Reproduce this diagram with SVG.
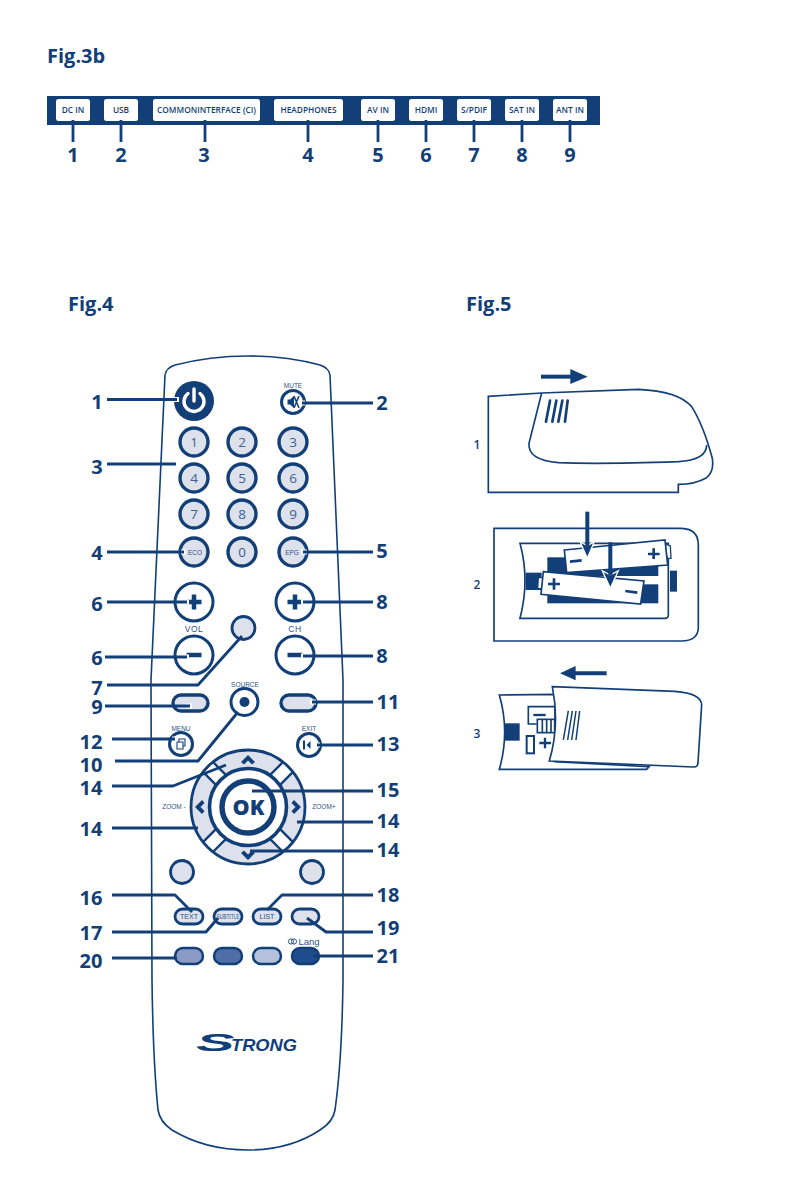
<svg xmlns="http://www.w3.org/2000/svg" width="805" height="1191" viewBox="0 0 805 1191">
<style>
text{font-family:"Open Sans","Liberation Sans",sans-serif;fill:#123f78}
.fig{font-size:20px;font-weight:700}
.num{font-size:20px;font-weight:700;text-anchor:middle}
.port{font-size:8.300px;font-weight:600;text-anchor:middle}
.pb{fill:#fff}
.c{fill:none;stroke:#123f78;stroke-width:2.800;stroke-linejoin:round}
.h{fill:none;stroke:#fff;stroke-width:5}
.key{fill:#dde1ec;stroke:#123f78;stroke-width:3.400}
.wkey{fill:#fff;stroke:#123f78;stroke-width:3}
.pill{fill:#dde1ec;stroke:#123f78;stroke-width:2.800}
.d{font-size:13.500px;text-anchor:middle;fill:#3d5f92}
.s{font-family:"Liberation Sans",sans-serif;font-size:7px;text-anchor:middle;fill:#2d5288}
.sm{font-family:"Liberation Sans",sans-serif;font-size:6.500px;text-anchor:middle;fill:#2d5288}
.dk{fill:#123f78}
.sc{fill:none;stroke:#123f78;stroke-width:5;stroke-linejoin:miter}
.st{fill:none;stroke:#123f78;stroke-width:8;stroke-linecap:round}
.lb{font-size:12px;font-weight:600}
.lab{font-family:"Liberation Sans",sans-serif;font-size:8.500px;text-anchor:middle;letter-spacing:.5px;fill:#2d5288}
.logo{font-family:"Liberation Sans",sans-serif;font-style:italic;font-weight:700}
</style>

<text class="fig" x="47" y="63">Fig.3b</text>
<text class="fig" x="68" y="311">Fig.4</text>
<text class="fig" x="466" y="311">Fig.5</text>

<g id="panel">
<rect x="47" y="96" width="553" height="29" fill="#123f78"/>
</g>
<g id="port-1"><rect class="pb" x="56" y="99" width="34" height="22" rx="2.5"/><text class="port" x="73" y="112.500">DC IN</text></g>
<g id="port-2"><rect class="pb" x="104" y="99" width="34" height="22" rx="2.5"/><text class="port" x="121" y="112.500">USB</text></g>
<g id="port-3"><rect class="pb" x="153" y="99" width="107" height="22" rx="2.500"/><text class="port" x="206.500" y="113" textLength="99" lengthAdjust="spacingAndGlyphs">COMMONINTERFACE (CI)</text></g>
<g id="port-4"><rect class="pb" x="274" y="99" width="69" height="22" rx="2.5"/><text class="port" x="308.500" y="112.500">HEADPHONES</text></g>
<g id="port-5"><rect class="pb" x="361" y="99" width="34" height="22" rx="2.5"/><text class="port" x="378" y="112.500">AV IN</text></g>
<g id="port-6"><rect class="pb" x="409" y="99" width="34" height="22" rx="2.5"/><text class="port" x="426" y="112.500">HDMI</text></g>
<g id="port-7"><rect class="pb" x="457" y="99" width="34" height="22" rx="2.5"/><text class="port" x="474" y="112.500">S/PDIF</text></g>
<g id="port-8"><rect class="pb" x="505" y="99" width="34" height="22" rx="2.5"/><text class="port" x="522" y="112.500">SAT IN</text></g>
<g id="port-9"><rect class="pb" x="553" y="99" width="34" height="22" rx="2.5"/><text class="port" x="570" y="112.500">ANT IN</text></g>

<g id="remote-body">
<path d="M165 375 Q166 368 175 365 Q210 356 248 356 Q286 356 320 365 Q329 368 330 375 L343 680 L343 980 Q342 1060 335 1110 Q333 1122 320 1130 Q290 1150 248 1150 Q205 1150 172 1130 Q160 1122 158 1110 Q153 1060 152 980 L151 680 Z" fill="#fff" stroke="#123f78" stroke-width="1.600"/>
</g>

<g id="btn-power"><circle cx="194" cy="401" r="20" class="dk"/><path d="M188 393.500 A10 10 0 1 0 200 393.500" fill="none" stroke="#fff" stroke-width="3.400" stroke-linecap="round"/><path d="M194 389V401" stroke="#fff" stroke-width="3.400" stroke-linecap="round"/></g>
<g id="btn-mute"><circle cx="293" cy="402" r="11.500" class="wkey"/><path d="M287.500 399.500h2.500l4-3.500v12l-4-3.500h-2.500z" class="dk"/><path d="M294 396l5 12M299 396l-5 12" fill="none" stroke="#123f78" stroke-width="1.500"/><text class="sm" x="293" y="387.500">MUTE</text></g>

<g id="btn-1"><circle class="key" cx="194" cy="442" r="14"/><text class="d" x="194" y="447">1</text></g>
<g id="btn-2"><circle class="key" cx="242" cy="442" r="14"/><text class="d" x="242" y="447">2</text></g>
<g id="btn-3"><circle class="key" cx="293" cy="442" r="14"/><text class="d" x="293" y="447">3</text></g>
<g id="btn-4"><circle class="key" cx="194" cy="478" r="14"/><text class="d" x="194" y="483">4</text></g>
<g id="btn-5"><circle class="key" cx="242" cy="478" r="14"/><text class="d" x="242" y="483">5</text></g>
<g id="btn-6"><circle class="key" cx="293" cy="478" r="14"/><text class="d" x="293" y="483">6</text></g>
<g id="btn-7"><circle class="key" cx="194" cy="514" r="14"/><text class="d" x="194" y="519">7</text></g>
<g id="btn-8"><circle class="key" cx="242" cy="514" r="14"/><text class="d" x="242" y="519">8</text></g>
<g id="btn-9"><circle class="key" cx="293" cy="514" r="14"/><text class="d" x="293" y="519">9</text></g>
<g id="btn-eco"><circle class="key" cx="194" cy="552" r="14"/><text class="sm" x="195" y="554.500">ECO</text></g>
<g id="btn-0"><circle class="key" cx="242" cy="552" r="14"/><text class="d" x="242" y="557">0</text></g>
<g id="btn-epg"><circle class="key" cx="293" cy="552" r="14"/><text class="sm" x="292" y="554.500">EPG</text></g>

<g id="btn-vol-up"><circle class="wkey" cx="194" cy="602" r="19"/><path d="M194 594.500V609.500M186.500 602H201.500" stroke="#123f78" stroke-width="4.500"/></g>
<g id="btn-vol-down"><circle class="wkey" cx="194" cy="655" r="19"/><path d="M186.500 655H201.500" stroke="#123f78" stroke-width="4.500"/><text class="lab" x="194" y="632">VOL</text></g>
<g id="btn-ch-up"><circle class="wkey" cx="295" cy="602" r="19"/><path d="M295 594.500V609.500M287.500 602H302.500" stroke="#123f78" stroke-width="4.500"/></g>
<g id="btn-ch-down"><circle class="wkey" cx="295" cy="655" r="19"/><path d="M287.500 655H302.500" stroke="#123f78" stroke-width="4.500"/><text class="lab" x="295" y="632">CH</text></g>
<g id="btn-7b"><circle class="pill" cx="243.500" cy="628" r="11.500"/></g>

<g id="btn-source"><circle class="wkey" cx="244.500" cy="702" r="13.500"/><circle cx="244.500" cy="702" r="5" class="dk"/><text class="sm" x="245" y="686.500">SOURCE</text></g>
<rect id="btn-9p" class="key" x="173" y="695" width="35" height="16" rx="8"/>
<rect id="btn-11p" class="key" x="281" y="695" width="35" height="16" rx="8"/>
<g id="btn-menu"><circle class="wkey" cx="181" cy="744" r="11.500"/><path d="M177 742h6v7h-6zM179 742v-3h6v7h-2" fill="none" stroke="#123f78" stroke-width="1.100"/><text class="sm" x="181" y="730.500">MENU</text></g>
<g id="btn-exit"><circle class="wkey" cx="309" cy="745" r="11.500"/><path d="M304 740.500v9" stroke="#123f78" stroke-width="2"/><path d="M306.500 745l4-4v8z" class="dk"/><text class="sm" x="309" y="730.500">EXIT</text></g>

<g id="dpad">
<circle cx="248" cy="807" r="57" fill="#dde1ec"/>
<g transform="rotate(45 248 807)"><rect x="241" y="750" width="14" height="22" fill="#fff"/><path d="M241 750v20M255 750v20" stroke="#123f78" stroke-width="2.400"/></g>
<g transform="rotate(135 248 807)"><rect x="241" y="750" width="14" height="22" fill="#fff"/><path d="M241 750v20M255 750v20" stroke="#123f78" stroke-width="2.400"/></g>
<g transform="rotate(225 248 807)"><rect x="241" y="750" width="14" height="22" fill="#fff"/><path d="M241 750v20M255 750v20" stroke="#123f78" stroke-width="2.400"/></g>
<g transform="rotate(315 248 807)"><rect x="241" y="750" width="14" height="22" fill="#fff"/><path d="M241 750v20M255 750v20" stroke="#123f78" stroke-width="2.400"/></g>
<circle cx="248" cy="807" r="57" fill="none" stroke="#123f78" stroke-width="2.800"/>
<circle cx="248" cy="807" r="38.500" fill="#fff" stroke="#123f78" stroke-width="3.600"/>
<circle cx="248" cy="807" r="26" fill="#fff" stroke="#123f78" stroke-width="5.500"/>
<text x="248.500" y="815" font-size="21.500" font-weight="800" text-anchor="middle">OK</text>
<path d="M241 762l7-7 7 7-3 2.500-4-4-4 4zM202 800l-7 7 7 7 2.500-3-4-4 4-4zM294 800l7 7-7 7-2.500-3 4-4-4-4zM241 853l7 7 7-7-3-2.500-4 4-4-4z" class="dk"/>
<text class="sm" x="174" y="808.500">ZOOM -</text>
<text class="sm" x="324" y="808.500">ZOOM+</text>
</g>
<circle id="btn-a" class="pill" cx="182" cy="872" r="11.500"/>
<circle id="btn-b" class="pill" cx="312" cy="872" r="11.500"/>
<g id="btn-text"><rect class="pill" x="175" y="909" width="28" height="15" rx="7.500"/><text class="s" x="189" y="919">TEXT</text></g>
<g id="btn-subtitle"><rect class="pill" x="214" y="909" width="28" height="15" rx="7.500"/><text class="sm" x="228" y="918.500" textLength="23" lengthAdjust="spacingAndGlyphs">SUBTITLE</text></g>
<g id="btn-list"><rect class="pill" x="253" y="909" width="28" height="15" rx="7.500"/><text class="s" x="267" y="919">LIST</text></g>
<rect id="btn-19" class="pill" x="292" y="909" width="27" height="15" rx="7.500"/>
<rect id="btn-red" x="175" y="948" width="28" height="16" rx="8" fill="#8a9cc6" stroke="#123f78" stroke-width="2.500"/>
<rect id="btn-green" x="214" y="948" width="28" height="16" rx="8" fill="#4f6ea8" stroke="#123f78" stroke-width="2.500"/>
<rect id="btn-yellow" x="253" y="948" width="28" height="16" rx="8" fill="#b4c0dc" stroke="#123f78" stroke-width="2.500"/>
<g id="btn-blue"><rect x="292" y="948" width="27" height="16" rx="8" fill="#1f4c8c" stroke="#123f78" stroke-width="2.500"/>
<circle cx="291" cy="941.500" r="2.600" fill="none" stroke="#123f78" stroke-width=".9"/><circle cx="294" cy="941.500" r="2.600" fill="none" stroke="#123f78" stroke-width=".9"/>
<text x="309" y="945" font-size="9.500" text-anchor="middle" style="font-family:'Liberation Sans',sans-serif;fill:#2d5288">Lang</text></g>

<g id="halos">
<path class="h" d="M173 399.500H179M300 403H305M181 552H186M301 552H307M183 602H189M301 602H307M183 657H189M301 656H307M186 706H192M310 702H316M172 739H177M315 745H320"/>
</g>
<g id="connectors">
<path class="c" d="M73 120V142"/><path class="c" d="M121 120V142"/><path class="c" d="M205 120V142"/><path class="c" d="M308 120V142"/><path class="c" d="M378 120V142"/><path class="c" d="M426 120V142"/><path class="c" d="M474 120V142"/><path class="c" d="M522 120V142"/><path class="c" d="M570 120V142"/>
<path class="c" d="M107 399.500H177"/>
<path class="c" d="M302 403H373"/>
<path class="c" d="M107 464H176"/>
<path class="c" d="M107 552H184"/>
<path class="c" d="M303 552H373"/>
<path class="c" d="M107 602H187"/>
<path class="c" d="M105 657H187"/>
<path class="c" d="M303 602H373"/>
<path class="c" d="M303 656H373"/>
<path class="c" d="M107 685H198L242 636"/>
<path class="c" d="M105 706H190"/>
<path class="c" d="M312 702H373"/>
<path class="c" d="M112 739H175"/>
<path class="c" d="M317 745H373"/>
<path class="c" d="M115 761H198L238 712"/>
<path class="c" d="M112 786H173L226 765"/>
<path class="c" d="M112 828H198"/>
<path class="c" d="M252 791H373"/>
<path class="c" d="M297 822H373"/>
<path class="c" d="M250 851H373"/>
<path class="c" d="M112 895H175L192 912"/>
<path class="c" d="M112 932H206L218 918"/>
<path class="c" d="M373 895H282L267 910"/>
<path class="c" d="M373 932H326L307 918"/>
<path class="c" d="M112 958H177"/>
<path class="c" d="M313 956H373"/>
</g>

<g id="port-numbers">
<text class="num" x="73" y="162">1</text><text class="num" x="121" y="162">2</text><text class="num" x="204" y="162">3</text><text class="num" x="308" y="162">4</text><text class="num" x="378" y="162">5</text><text class="num" x="426" y="162">6</text><text class="num" x="474" y="162">7</text><text class="num" x="522" y="162">8</text><text class="num" x="570" y="162">9</text>
</g>
<g id="remote-numbers">
<text class="num" x="97" y="409">1</text><text class="num" x="97" y="474">3</text><text class="num" x="97" y="560">4</text><text class="num" x="97" y="611">6</text><text class="num" x="97" y="665">6</text><text class="num" x="97" y="695">7</text><text class="num" x="97" y="714">9</text>
<text class="num" x="91" y="749">12</text><text class="num" x="91" y="772">10</text><text class="num" x="91" y="795">14</text><text class="num" x="91" y="836">14</text><text class="num" x="91" y="905">16</text><text class="num" x="91" y="940">17</text><text class="num" x="91" y="968">20</text>
<text class="num" x="382" y="410">2</text><text class="num" x="382" y="558">5</text><text class="num" x="382" y="609">8</text><text class="num" x="382" y="663">8</text>
<text class="num" x="388" y="709">11</text><text class="num" x="388" y="751">13</text><text class="num" x="388" y="797">15</text><text class="num" x="388" y="828">14</text><text class="num" x="388" y="857">14</text><text class="num" x="388" y="902">18</text><text class="num" x="388" y="935">19</text><text class="num" x="388" y="963">21</text>
</g>

<g id="logo">
<text class="logo" transform="translate(196 1051) scale(2.400 1)" font-size="24">S</text>
<text class="logo" x="231" y="1051" font-size="17" textLength="66" lengthAdjust="spacingAndGlyphs">TRONG</text>
</g>

<g id="step-1">
<text class="lb" x="477" y="449" text-anchor="middle">1</text>
<g transform="translate(465 355) scale(.3333)">
<path d="M228 65H320" stroke="#123f78" stroke-width="12"/><path d="M316 42L368 65L316 87Z" class="dk"/>
<path class="sc" d="M70 124L230 114L520 103Q640 108 680 155Q715 210 742 310Q748 350 725 368Q690 388 640 388V412H70Z"/>
<path class="sc" d="M230 114L192 265Q188 315 280 323Q400 328 640 320Q725 315 725 270"/>
<path class="st" d="M255 137L243 200M274 137L262 200M292 137L280 200M308 137L300 200"/>
</g>
</g>

<g id="step-2">
<text class="lb" x="477" y="589" text-anchor="middle">2</text>
<g transform="translate(465 505) scale(.3333)">
<path class="sc" d="M87 70H650Q700 72 700 120V370Q698 408 650 408H87Z"/>
<path class="sc" d="M165 115H610V330Q610 340 600 340H165Q195 225 165 115Z"/>
<rect x="247" y="157" width="333" height="56" class="dk"/>
<rect x="247" y="238" width="333" height="57" class="dk"/>
<rect x="182" y="203" width="48" height="52" class="dk"/>
<rect x="615" y="197" width="21" height="63" class="dk"/>
<path d="M600 118L616 122L618 160L606 160Z" fill="#fff" stroke="#123f78" stroke-width="4"/>
<path d="M298 135L600 105L608 180L305 203Z" fill="#fff" stroke="#123f78" stroke-width="5"/>
<path d="M220 218L234 218L232 252L218 250Z" fill="#fff" stroke="#123f78" stroke-width="4"/>
<path d="M235 200L537 228L527 297L228 268Z" fill="#fff" stroke="#123f78" stroke-width="5"/>
<path d="M566 130V162M549 147H584" stroke="#123f78" stroke-width="8"/>
<path d="M315 170L350 166" stroke="#123f78" stroke-width="8"/>
<path d="M267 220V254M249 237H285" stroke="#123f78" stroke-width="8"/>
<path d="M481 258L517 263" stroke="#123f78" stroke-width="8"/>
<path d="M345 110L367 160L388 110L367 122Z" fill="#123f78" stroke="#fff" stroke-width="4"/>
<path d="M367 20V125" stroke="#123f78" stroke-width="12"/>
<path d="M412 197L436 250L460 197L436 210Z" fill="#123f78" stroke="#fff" stroke-width="4"/>
<path d="M436 112V212" stroke="#123f78" stroke-width="12"/>
</g>
</g>

<g id="step-3">
<text class="lb" x="477" y="738" text-anchor="middle">3</text>
<g transform="translate(465 655) scale(.3333)">
<path d="M425 55H330" stroke="#123f78" stroke-width="12"/><path d="M332 33L285 55L332 76Z" class="dk"/>
<path class="sc" d="M103 120L270 118V320L552 335L545 343H103Q135 230 103 120Z"/>
<rect x="117" y="205" width="47" height="52" class="dk"/>
<path class="sc" d="M270 155H190V207H215"/>
<path d="M205 180H242" stroke="#123f78" stroke-width="7"/>
<rect x="217" y="193" width="52" height="40" fill="#fff" stroke="#123f78" stroke-width="5"/>
<path d="M232 195V232M245 195V232M258 195V232" stroke="#123f78" stroke-width="5"/>
<rect x="185" y="243" width="22" height="52" fill="#fff" stroke="#123f78" stroke-width="6"/>
<path d="M240 248V280M223 264H258" stroke="#123f78" stroke-width="7"/>
<path style="fill:#fff;stroke:#123f78;stroke-width:5" d="M262 95L630 109C680 113 710 125 710 150L699 325Q698 337 685 336L253 318Q285 210 262 95Z"/>
<path d="M310 168L295 255M322 168L308 255M333 168L320 255M344 168L333 255" stroke="#123f78" stroke-width="4.500" fill="none"/>
</g>
</g>
</svg>
